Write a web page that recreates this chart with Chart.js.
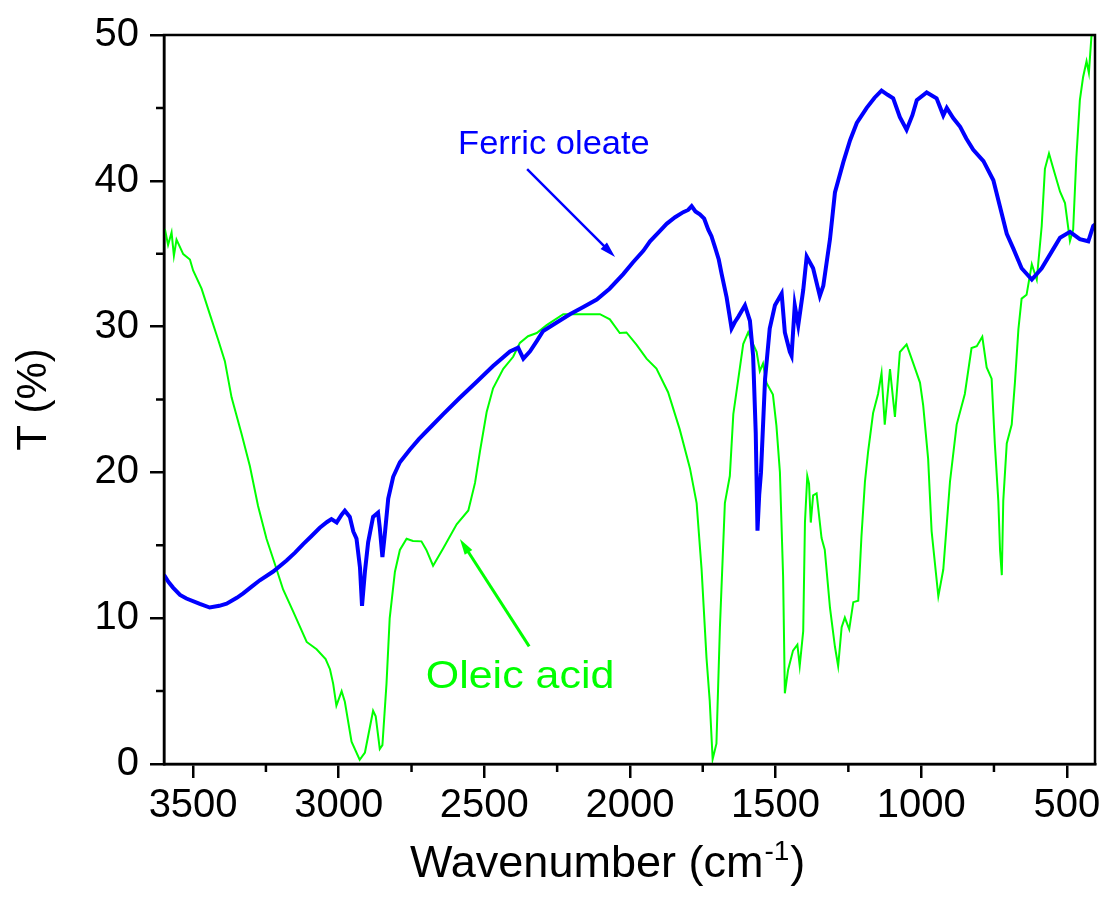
<!DOCTYPE html>
<html>
<head>
<meta charset="utf-8">
<title>FTIR spectra</title>
<script src="https://cdn.jsdelivr.net/npm/chart.js@4.4.0/dist/chart.umd.min.js"></script>
<style>
  html, body { margin: 0; padding: 0; background: #fff; }
  #chart { display: block; }
</style>
</head>
<body>
<canvas id="chart" width="1107" height="898"></canvas>
<script>
// Ferric oleate spectrum (wavenumber, transmittance %)
const ferricWn = [3600, 3585, 3569, 3545, 3523, 3477, 3443, 3410, 3385, 3350, 3328, 3300, 3271, 3225, 3179, 3150, 3122, 3095, 3065, 3040,
  3025, 3007, 2990, 2979, 2962, 2950, 2939, 2927, 2920, 2910, 2899, 2882, 2865, 2859, 2850, 2842, 2830, 2813, 2790, 2756,
  2724, 2680, 2641, 2585, 2527, 2470, 2412, 2384, 2366, 2343, 2320, 2298, 2250, 2206, 2160, 2114, 2070, 2023, 1990, 1954,
  1931, 1900, 1874, 1845, 1817, 1800, 1788, 1775, 1760, 1745, 1731, 1720, 1708, 1695, 1685, 1668, 1660, 1651, 1640, 1628,
  1605, 1588, 1577, 1568, 1562, 1556, 1550, 1536, 1520, 1502, 1479, 1468, 1451, 1445, 1434, 1422, 1405, 1393, 1371, 1348,
  1336, 1313, 1296, 1267, 1244, 1221, 1187, 1160, 1136, 1115, 1096, 1073, 1050, 1030, 1015, 981, 947, 924, 912, 890,
  866, 845, 821, 786, 752, 729, 706, 683, 655, 620, 586, 546, 523, 489, 455, 426, 409, 403];
const ferricT = [12.97, 12.5, 12.1, 11.6, 11.35, 10.98, 10.73, 10.85, 11.0, 11.4, 11.7, 12.15, 12.6, 13.2, 13.96, 14.5, 15.08, 15.6, 16.2, 16.6,
  16.8, 16.57, 17.1, 17.37, 16.95, 15.95, 15.46, 13.47, 10.85, 13.2, 15.2, 16.95, 17.24, 16.2, 14.2, 15.7, 18.2, 19.7, 20.7, 21.55,
  22.3, 23.2, 24.0, 25.1, 26.2, 27.3, 28.3, 28.55, 27.8, 28.3, 29.0, 29.7, 30.3, 30.85, 31.35, 31.85, 32.6, 33.6, 34.4, 35.2,
  35.85, 36.5, 37.05, 37.5, 37.85, 38.0, 38.26, 37.9, 37.7, 37.4, 36.65, 36.2, 35.45, 34.6, 33.6, 32.0, 31.0, 29.87, 30.3, 30.67,
  31.46, 30.4, 28.0, 22.7, 16.0, 18.5, 20.0, 26.4, 29.87, 31.46, 32.26, 29.6, 28.27, 28.0, 31.46, 30.1, 32.5, 34.8, 34.0, 32.1,
  32.8, 36.0, 39.2, 41.3, 42.78, 43.97, 45.0, 45.7, 46.19, 45.9, 45.66, 44.36, 43.5, 44.5, 45.53, 46.06, 45.66, 44.49, 45.0, 44.3,
  43.7, 42.9, 42.13, 41.35, 40.04, 38.2, 36.37, 35.33, 34.0, 33.23, 34.0, 35.33, 36.1, 36.5, 36.0, 35.85, 36.9, 37.0];

// Oleic acid spectrum (wavenumber, transmittance %)
const oleicWn = [3600, 3597, 3586, 3574, 3566, 3557, 3534, 3511, 3500, 3471, 3443, 3414, 3391, 3368, 3334, 3305, 3277, 3248, 3219, 3191,
  3157, 3110, 3076, 3045, 3030, 3019, 3008, 2990, 2979, 2956, 2928, 2910, 2882, 2873, 2859, 2850, 2836, 2825, 2807, 2790,
  2767, 2745, 2716, 2699, 2676, 2641, 2595, 2555, 2532, 2515, 2492, 2470, 2435, 2401, 2378, 2350, 2320, 2286, 2229, 2183,
  2103, 2069, 2035, 2012, 1977, 1943, 1909, 1869, 1829, 1794, 1771, 1754, 1737, 1726, 1716, 1703, 1691, 1674, 1657, 1645,
  1628, 1611, 1594, 1577, 1565, 1554, 1543, 1531, 1509, 1497, 1485, 1474, 1468, 1457, 1440, 1425, 1417, 1405, 1399, 1391,
  1385, 1379, 1371, 1359, 1342, 1331, 1313, 1296, 1285, 1273, 1262, 1247, 1233, 1216, 1205, 1193, 1182, 1165, 1148, 1136,
  1125, 1107, 1090, 1073, 1050, 1027, 1004, 993, 976, 964, 941, 924, 901, 878, 850, 827, 809, 790, 775, 758,
  747, 735, 729, 723, 718, 706, 689, 678, 666, 655, 638, 620, 603, 586, 575, 561, 546, 523, 506, 489,
  478, 467, 455, 444, 432, 424, 415, 403];
const oleicT = [36.5, 36.7, 35.6, 36.46, 34.85, 35.96, 34.97, 34.6, 33.85, 32.6, 30.87, 29.1, 27.63, 25.15, 22.67, 20.42, 17.7, 15.45, 13.7, 11.97,
  10.48, 8.37, 7.87, 7.2, 6.5, 5.5, 4.0, 5.0, 4.27, 1.53, 0.29, 0.79, 3.65, 3.27, 1.03, 1.29, 5.5, 9.99, 13.19, 14.68,
  15.45, 15.3, 15.27, 14.68, 13.6, 14.8, 16.44, 17.39, 19.28, 21.44, 24.14, 25.77, 27.1, 27.93, 28.88, 29.34, 29.56, 30.1, 30.85, 30.85,
  30.85, 30.5, 29.56, 29.6, 28.74, 27.8, 27.12, 25.5, 22.95, 20.29, 17.89, 13.37, 7.25, 4.32, 0.33, 1.39, 9.38, 17.89, 19.75, 24.0,
  26.4, 28.8, 29.6, 28.8, 28.27, 26.94, 27.47, 26.14, 25.34, 23.21, 20.02, 12.84, 4.85, 6.45, 7.78, 8.18, 6.72, 9.11, 16.56, 19.75,
  19.23, 16.56, 18.43, 18.56, 15.5, 14.7, 10.7, 8.04, 6.72, 9.38, 10.04, 9.24, 11.1, 11.2, 15.6, 19.36, 21.45, 24.07, 25.38, 26.82,
  23.28, 27.08, 23.81, 28.26, 28.78, 27.48, 26.16, 24.6, 20.93, 15.96, 11.5, 13.34, 19.36, 23.28, 25.38, 28.53, 28.65, 29.3, 27.2, 26.43,
  21.98, 18.05, 14.64, 12.95, 18.05, 21.98, 23.28, 26.16, 29.83, 31.92, 32.18, 34.28, 33.23, 36.9, 40.82, 41.87, 40.82, 39.25, 38.47, 35.87,
  36.65, 41.6, 45.53, 47.1, 48.2, 47.4, 49.97, 50];

// Tick values
const xTicks = [3500, 3000, 2500, 2000, 1500, 1000, 500];
const xMinorTicks = [3250, 2750, 2250, 1750, 1250, 750];
const yTicks = [0, 10, 20, 30, 40, 50];
const yMinorTicks = [5, 15, 25, 35, 45];

const FONT = '"Liberation Sans", Arial, Helvetica, sans-serif';
const BLUE = '#0000ff';
const GREEN = '#00ff00';

function toPoints(xs, ys) {
    return xs.map((v, i) => ({ x: v, y: ys[i] }));
}

// Text drawn a bit wider than the font, like the original figure
function stretchedText(ctx, text, x, y, stretch) {
    ctx.save();
    ctx.translate(x, y);
    ctx.scale(stretch, 1);
    ctx.fillText(text, 0, 0);
    ctx.restore();
}

// Draw a line with a narrow filled arrowhead at the end
function drawArrow(ctx, x1, y1, x2, y2, color, width) {
    const ang = Math.atan2(y2 - y1, x2 - x1);
    const len = 16, half = 4.5;
    ctx.strokeStyle = color;
    ctx.fillStyle = color;
    ctx.lineWidth = width;
    ctx.beginPath();
    ctx.moveTo(x1, y1);
    ctx.lineTo(x2 - Math.cos(ang) * len * 0.7, y2 - Math.sin(ang) * len * 0.7);
    ctx.stroke();
    ctx.beginPath();
    ctx.moveTo(x2, y2);
    ctx.lineTo(x2 - Math.cos(ang) * len + Math.sin(ang) * half, y2 - Math.sin(ang) * len - Math.cos(ang) * half);
    ctx.lineTo(x2 - Math.cos(ang) * len - Math.sin(ang) * half, y2 - Math.sin(ang) * len + Math.cos(ang) * half);
    ctx.closePath();
    ctx.fill();
}

// Frame, minor ticks, labels and x axis title
const decorPlugin = {
    id: 'decor',
    afterDraw(chart) {
        const { ctx, chartArea: a, scales: { x, y } } = chart;
        ctx.save();
        ctx.strokeStyle = '#000';
        ctx.lineWidth = 2.5;
        ctx.beginPath();
        xMinorTicks.forEach(v => {
            const px = x.getPixelForValue(v);
            ctx.moveTo(px, a.bottom);
            ctx.lineTo(px, a.bottom + 8);
        });
        yMinorTicks.forEach(v => {
            const py = y.getPixelForValue(v);
            ctx.moveTo(a.left, py);
            ctx.lineTo(a.left - 8, py);
        });
        ctx.stroke();
        ctx.strokeRect(a.left, a.top, a.right - a.left, a.bottom - a.top);

        // series labels
        ctx.textBaseline = 'alphabetic';
        ctx.textAlign = 'left';
        ctx.fillStyle = BLUE;
        ctx.font = '33px ' + FONT;
        stretchedText(ctx, 'Ferric oleate', x.getPixelForValue(2590), y.getPixelForValue(41.86), 1.045);
        drawArrow(ctx, x.getPixelForValue(2353), y.getPixelForValue(40.8),
            x.getPixelForValue(2051), y.getPixelForValue(34.77), BLUE, 2.5);

        ctx.fillStyle = GREEN;
        ctx.font = '38px ' + FONT;
        stretchedText(ctx, 'Oleic acid', x.getPixelForValue(2701), y.getPixelForValue(5.18), 1.13);
        drawArrow(ctx, x.getPixelForValue(2346), y.getPixelForValue(8.07),
            x.getPixelForValue(2584), y.getPixelForValue(15.44), GREEN, 3);

        // x axis title with superscript
        ctx.fillStyle = '#000';
        let tx = a.left + 246;
        const ty = a.bottom + 113;
        ctx.font = '45px ' + FONT;
        const main = 'Wavenumber (cm';
        ctx.fillText(main, tx, ty);
        tx += ctx.measureText(main).width + 1;
        ctx.font = '28px ' + FONT;
        ctx.fillText('-1', tx, ty - 17);
        tx += ctx.measureText('-1').width + 1;
        ctx.font = '45px ' + FONT;
        ctx.fillText(')', tx, ty);
        ctx.restore();
    }
};

new Chart(document.getElementById('chart'), {
    type: 'line',
    data: {
        datasets: [
            {
                label: 'Ferric oleate',
                data: toPoints(ferricWn, ferricT),
                borderColor: BLUE,
                borderWidth: 4,
                pointRadius: 0,
                tension: 0,
                fill: false
            },
            {
                label: 'Oleic acid',
                data: toPoints(oleicWn, oleicT),
                borderColor: GREEN,
                borderWidth: 2,
                pointRadius: 0,
                tension: 0,
                fill: false
            }
        ]
    },
    options: {
        responsive: false,
        animation: false,
        devicePixelRatio: 1,
        layout: { padding: { top: 32, right: 12, left: 0, bottom: 0 } },
        plugins: {
            legend: { display: false },
            tooltip: { enabled: false }
        },
        scales: {
            x: {
                type: 'linear',
                reverse: true,
                min: 403,
                max: 3600,
                afterFit: s => { s.height = 134; },
                afterBuildTicks: s => { s.ticks = xTicks.map(v => ({ value: v })); },
                border: { color: '#000', width: 2.5 },
                grid: { drawOnChartArea: false, color: '#000', lineWidth: 2.5, tickLength: 14 },
                ticks: {
                    color: '#000',
                    font: { family: FONT, size: 40 },
                    padding: 4,
                    maxRotation: 0,
                    callback: v => String(v)
                }
            },
            y: {
                min: 0,
                max: 50,
                afterFit: s => { s.width = 164; },
                afterBuildTicks: s => { s.ticks = yTicks.map(v => ({ value: v })); },
                border: { color: '#000', width: 2.5 },
                grid: { drawOnChartArea: false, color: '#000', lineWidth: 2.5, tickLength: 14 },
                ticks: {
                    color: '#000',
                    font: { family: FONT, size: 40 },
                    padding: 11,
                    callback: v => String(v)
                },
                title: {
                    display: true,
                    text: 'T (%)',
                    color: '#000',
                    font: { family: FONT, size: 42 },
                    padding: { top: 9, bottom: 0 }
                }
            }
        }
    },
    plugins: [decorPlugin]
});
</script>
</body>
</html>
